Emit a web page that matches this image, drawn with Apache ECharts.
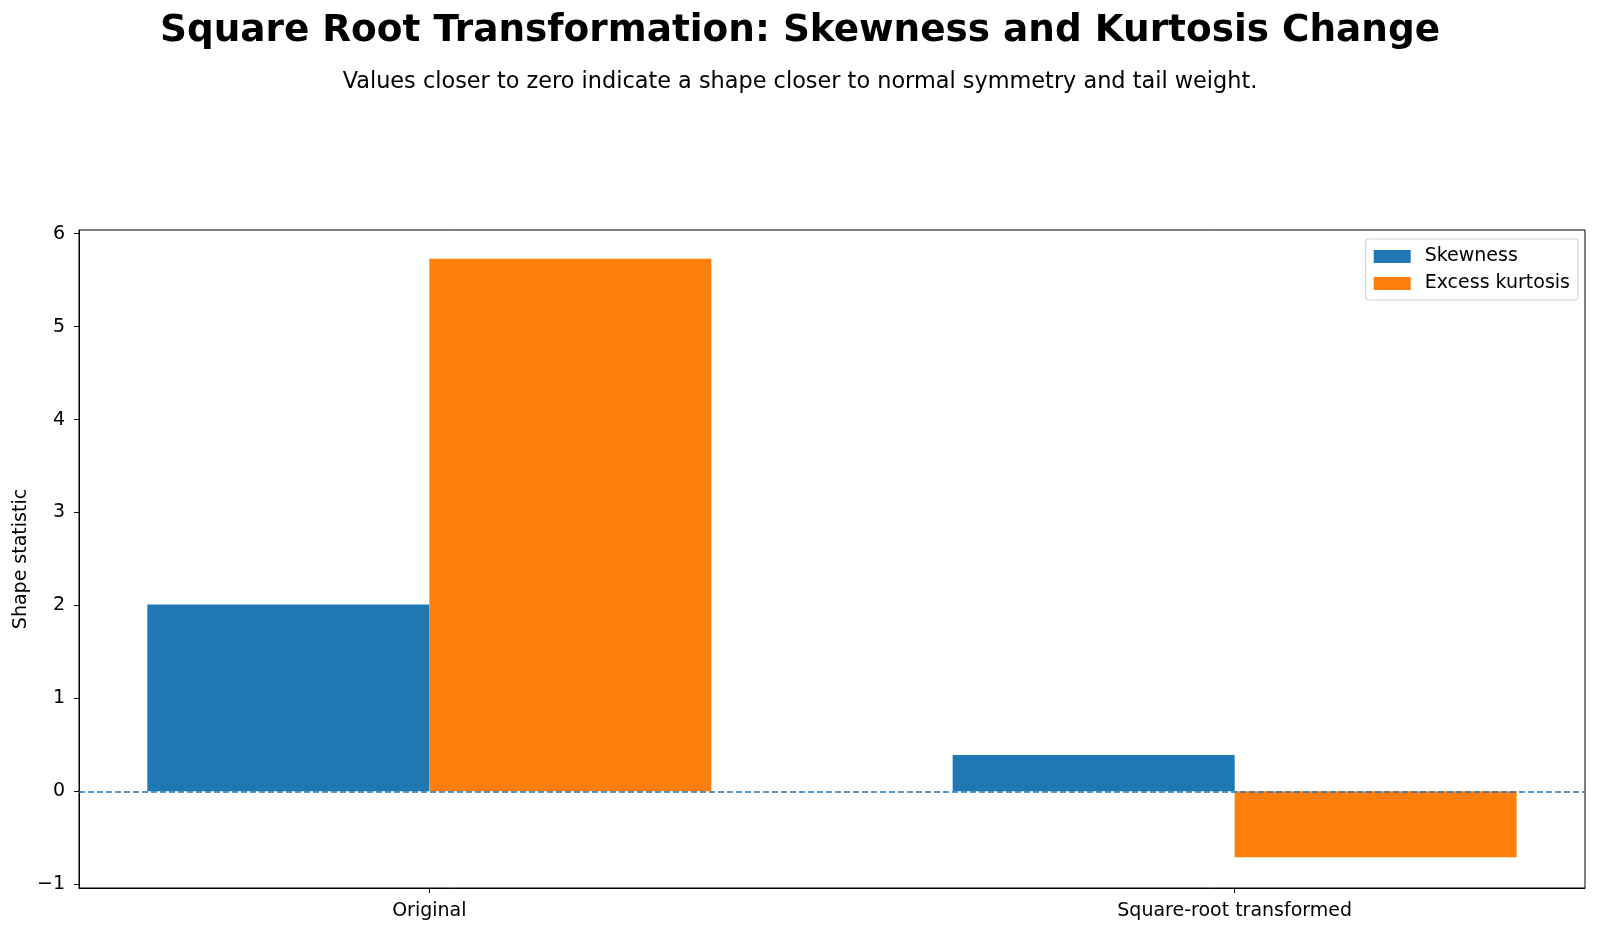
<!DOCTYPE html>
<html>
<head>
<meta charset="utf-8">
<script src="https://cdn.jsdelivr.net/npm/echarts@6/dist/echarts.min.js"></script>
<style>html,body{margin:0;padding:0;background:#fff}#c{width:1600px;height:933px}</style>
</head>
<body>
<div id="c"></div>
<script>
const categories = ["Original", "Square-root transformed"];
const skewness = [2.01, 0.39];
const excessKurtosis = [5.73, -0.71];
const yTicks = [-1, 0, 1, 2, 3, 4, 5, 6];
const seriesNames = ["Skewness", "Excess kurtosis"];

const FONT = "DejaVu Sans";
const chart = echarts.init(document.getElementById('c'), null, {renderer: 'canvas'});
const catIdx = categories.map((c, i) => i);
const barW = 282;

chart.setOption({
  animation: false,
  backgroundColor: '#fff',
  textStyle: {fontFamily: FONT},
  title: [
    {text: 'Square Root Transformation: Skewness and Kurtosis Change', left: 'center', top: 8,
     textStyle: {fontFamily: FONT, fontSize: 37.4, fontWeight: 'bold', color: '#000'}},
    {text: 'Values closer to zero indicate a shape closer to normal symmetry and tail weight.', left: 'center', top: 66,
     textStyle: {fontFamily: FONT, fontSize: 22.4, fontWeight: 'normal', color: '#000'}}
  ],
  legend: {
    orient: 'vertical', right: 22, top: 239,
    itemWidth: 37, itemHeight: 13, itemGap: 8,
    padding: [8, 8, 7, 8],
    backgroundColor: '#fff', borderColor: '#d0d0d0', borderWidth: 1, borderRadius: 3,
    icon: 'rect',
    textStyle: {fontFamily: FONT, fontSize: 19, lineHeight: 13, color: '#000', padding: [0, 0, 0, 9]},
    data: seriesNames
  },
  grid: {left: 79, right: 15, top: 230, bottom: 45, show: true, borderColor: '#000', borderWidth: 1, backgroundColor: 'transparent'},
  xAxis: {
    type: 'value', min: -0.435, max: 1.435,
    splitLine: {show: false},
    axisLine: {show: true, onZero: false, lineStyle: {color: '#000'}},
    axisTick: {show: true, customValues: catIdx, length: 5, lineStyle: {color: '#000'}},
    axisLabel: {customValues: catIdx, formatter: v => categories[Math.round(v)] || '', fontFamily: FONT, fontSize: 19, color: '#000', margin: 14}
  },
  yAxis: {
    type: 'value', min: -1.04, max: 6.04,
    name: 'Shape statistic', nameLocation: 'middle', nameGap: 48, nameMoveOverlap: false,
    nameTextStyle: {fontFamily: FONT, fontSize: 19, color: '#000'},
    splitLine: {show: false},
    axisLine: {show: true, onZero: false, lineStyle: {color: '#000'}},
    axisTick: {show: true, customValues: yTicks, length: 5, lineStyle: {color: '#000'}},
    axisLabel: {customValues: yTicks, formatter: v => (v < 0 ? '\u2212' + Math.abs(v) : String(v)), fontFamily: FONT, fontSize: 19, color: '#000', margin: 14}
  },
  series: [
    {name: seriesNames[0], type: 'bar', barWidth: barW, barGap: '0%',
     itemStyle: {color: '#1f77b4'},
     data: catIdx.map(i => [i, skewness[i]]),
     markLine: {symbol: 'none', silent: true, label: {show: false},
       lineStyle: {color: '#1f77b4', type: [6, 3], width: 1.5}, data: [{yAxis: 0}], z: 10}
    },
    {name: seriesNames[1], type: 'bar', barWidth: barW, barGap: '0%',
     itemStyle: {color: '#ff7f0e'},
     data: catIdx.map(i => [i, excessKurtosis[i]])}
  ]
});
</script>
</body>
</html>
